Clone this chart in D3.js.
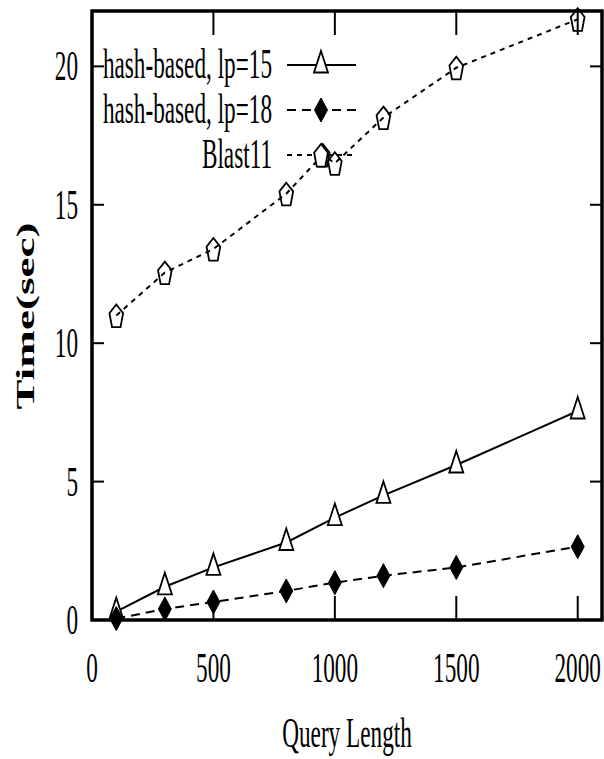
<!DOCTYPE html>
<html><head><meta charset="utf-8">
<script src="https://cdn.jsdelivr.net/npm/d3@7"></script>
<style>html,body{margin:0;padding:0;background:#fff;}svg{display:block;}</style>
</head><body>
<svg id="c" width="604" height="759"></svg>
<script>
const queryLengths = [100, 300, 500, 800, 1000, 1200, 1500, 2000];
const hashLp15 = [0.3, 1.2, 1.9, 2.8, 3.7, 4.5, 5.6, 7.55];
const hashLp18 = [0.05, 0.4, 0.65, 1.05, 1.35, 1.6, 1.9, 2.65];
const blastLengths = [100, 300, 500, 800, 950, 1000, 1200, 1500, 2000];
const blast11 = [11.0, 12.55, 13.4, 15.4, 16.8, 16.5, 18.15, 19.95, 21.7];
const xTicks = [0, 500, 1000, 1500, 2000];
const yTicks = [0, 5, 10, 15, 20];
const seriesNames = ["hash-based, lp=15", "hash-based, lp=18", "Blast11"];

const svg = d3.select("#c");
const L = 92, R = 602, T = 11, B = 620;
const x = d3.scaleLinear().domain([0, 2100]).range([L, R]);
const y = d3.scaleLinear().domain([0, 22]).range([B, T]);
const FONT = "'Liberation Serif','Times New Roman',serif";
const FS = 43;
const SX = 0.54;

function label(g, txt, px, py, anchor) {
  g.append("text").attr("transform", `translate(${px},${py}) scale(${SX},1)`)
    .attr("text-anchor", anchor).attr("font-family", FONT).attr("font-size", FS)
    .attr("fill", "#000").text(txt);
}

// shapes
function triPath(cx, cy) { return `M${cx},${cy-14}L${cx+7},${cy+7.5}L${cx-7},${cy+7.5}Z`; }
function diaPath(cx, cy) { return `M${cx},${cy-12}L${cx+6.5},${cy}L${cx},${cy+12}L${cx-6.5},${cy}Z`; }
function pentPath(cx, cy) {
  const pts = [];
  for (let i = 0; i < 5; i++) {
    const a = -Math.PI/2 + i*2*Math.PI/5;
    pts.push([cx + 7.2*Math.cos(a), cy + 12.5*Math.sin(a) + 1.5]);
  }
  return "M" + pts.map(p => p.join(",")).join("L") + "Z";
}

// ticks (inward, mirrored)
const tk = svg.append("g").attr("stroke", "#000").attr("stroke-width", 2);
xTicks.forEach(v => {
  tk.append("line").attr("x1", x(v)).attr("x2", x(v)).attr("y1", B).attr("y2", B-24);
  tk.append("line").attr("x1", x(v)).attr("x2", x(v)).attr("y1", T).attr("y2", T+24);
});
yTicks.forEach(v => {
  tk.append("line").attr("x1", L).attr("x2", L+12).attr("y1", y(v)).attr("y2", y(v));
  tk.append("line").attr("x1", R).attr("x2", R-12).attr("y1", y(v)).attr("y2", y(v));
});

// tick labels
const tl = svg.append("g");
xTicks.forEach(v => label(tl, String(v), x(v), 682, "middle"));
yTicks.forEach(v => label(tl, String(v), 78, y(v)+14, "end"));

// series
const line = d3.line().x(d => x(d[0])).y(d => y(d[1]));
const s1 = queryLengths.map((q, i) => [q, hashLp15[i]]);
const s2 = queryLengths.map((q, i) => [q, hashLp18[i]]);
const s3 = blastLengths.map((q, i) => [q, blast11[i]]);

const g = svg.append("g");
g.append("path").attr("d", line(s1)).attr("fill", "none").attr("stroke", "#000").attr("stroke-width", 2);
g.append("path").attr("d", line(s2)).attr("fill", "none").attr("stroke", "#000").attr("stroke-width", 2).attr("stroke-dasharray", "9,6");
g.append("path").attr("d", line(s3)).attr("fill", "none").attr("stroke", "#000").attr("stroke-width", 2).attr("stroke-dasharray", "5,5");

s1.forEach(d => g.append("path").attr("d", triPath(x(d[0]), y(d[1]))).attr("fill", "#fff").attr("stroke", "#000").attr("stroke-width", 1.8));
s2.forEach(d => g.append("path").attr("d", diaPath(x(d[0]), y(d[1]))).attr("fill", "#000").attr("stroke", "#000").attr("stroke-width", 1));
s3.forEach(d => g.append("path").attr("d", pentPath(x(d[0]), y(d[1]))).attr("fill", "none").attr("stroke", "#000").attr("stroke-width", 1.8));

// legend
const lg = svg.append("g");
const rows = [65, 110, 155];
const dashes = [null, "9,6", "5,5"];
rows.forEach((ry, i) => {
  label(lg, seriesNames[i], 272, ry + 13, "end");
  const ln = lg.append("line").attr("x1", 287).attr("x2", 356).attr("y1", ry).attr("y2", ry)
    .attr("stroke", "#000").attr("stroke-width", 2);
  if (dashes[i]) ln.attr("stroke-dasharray", dashes[i]);
});
lg.append("path").attr("d", triPath(321, 65)).attr("fill", "#fff").attr("stroke", "#000").attr("stroke-width", 1.8);
lg.append("path").attr("d", diaPath(321, 110)).attr("fill", "#000").attr("stroke", "#000").attr("stroke-width", 1);
lg.append("path").attr("d", pentPath(321, 155)).attr("fill", "#fff").attr("stroke", "#000").attr("stroke-width", 1.8);

// frame
svg.append("rect").attr("x", L).attr("y", T).attr("width", R-L).attr("height", B-T)
  .attr("fill", "none").attr("stroke", "#000").attr("stroke-width", 3.5);

// axis titles
label(svg, "Query Length", 347, 747, "middle");
const yt = svg.append("text").attr("font-family", FONT).attr("font-weight", "bold")
  .attr("font-size", 26).attr("text-anchor", "middle").attr("fill", "#000").text("Time(sec)");
const w = yt.node().getComputedTextLength();
yt.attr("transform", `translate(34,316) rotate(-90) scale(${187/w},1)`);
</script>
</body></html>
